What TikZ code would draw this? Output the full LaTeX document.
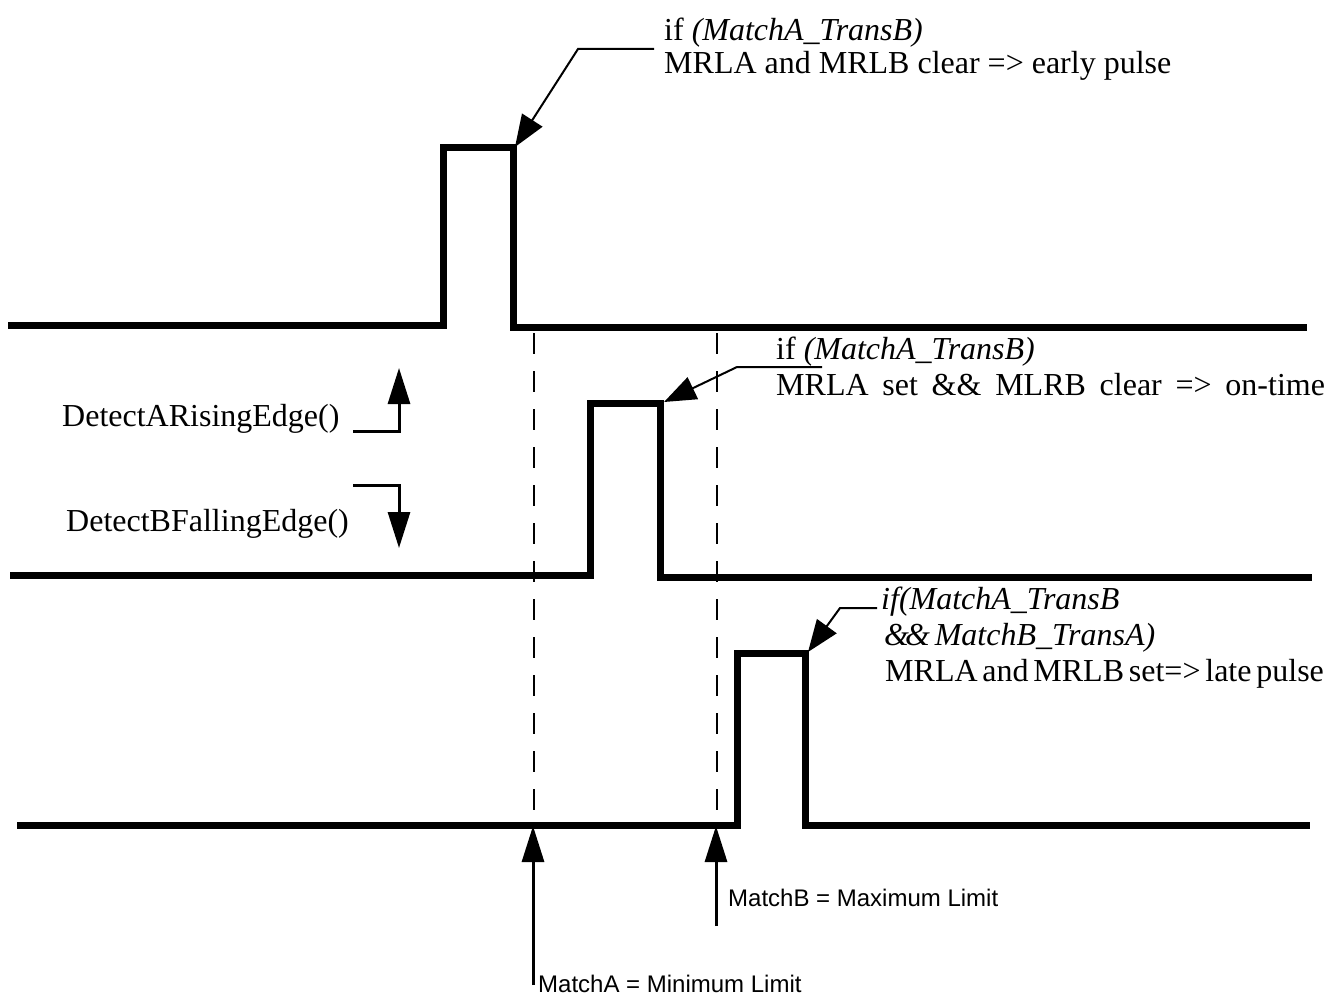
\documentclass[tikz,border=0pt]{standalone}
\usepackage{fontspec}
\setmainfont{Liberation Serif}
\newfontfamily\labelsans{Liberation Sans}
\usetikzlibrary{arrows.meta}
\newcommand\wsp{\hspace{0.43em}}
\newcommand\nsp{\hspace{0.15em}}
\begin{document}
\begin{tikzpicture}[x=1pt,y=-1pt,
  wave/.style={line width=7pt, line join=miter},
  guide/.style={line width=1.2pt, dash pattern=on 21pt off 17pt},
  leader/.style={line width=2pt, -{Triangle[length=32pt,width=24pt]}},
  bigarrow/.style={line width=3pt, -{Triangle[length=36pt,width=22pt]}},
  note/.style={font=\fontsize{32}{36}\selectfont, inner sep=0pt, anchor=base west},
  limit/.style={font=\labelsans\fontsize{24}{28}\selectfont, inner sep=0pt, anchor=base west}]
\useasboundingbox (0,0) rectangle (1335,995);
\fill[white] (0,0) rectangle (1335,995);

% waveform coordinates
\coordinate (a0) at (8,325);   \coordinate (a1) at (443,325);
\coordinate (a2) at (443,148); \coordinate (a3) at (513,148);
\coordinate (a4) at (513,327); \coordinate (a5) at (1307,327);
\coordinate (b0) at (10,575);  \coordinate (b1) at (590,575);
\coordinate (b2) at (590,403); \coordinate (b3) at (660,403);
\coordinate (b4) at (660,577); \coordinate (b5) at (1312,577);
\coordinate (c0) at (17,825);  \coordinate (c1) at (737,825);
\coordinate (c2) at (737,653); \coordinate (c3) at (805,653);
\coordinate (c4) at (805,825); \coordinate (c5) at (1310,825);

\draw[wave] (a0) -- (a1) -- (a2) -- (a3) -- (a4) -- (a5);
\draw[wave] (b0) -- (b1) -- (b2) -- (b3) -- (b4) -- (b5);
\draw[wave] (c0) -- (c1) -- (c2) -- (c3) -- (c4) -- (c5);

% guides
\coordinate (gA1) at (534,333); \coordinate (gA2) at (534,822);
\coordinate (gB1) at (717,333); \coordinate (gB2) at (717,822);
\draw[guide] (gA1) -- (gA2);
\draw[guide] (gB1) -- (gB2);

% top annotation
\node[note] (t1) at (664,41) {if \textit{(MatchA\_TransB)}};
\node[note] (t2) at (664,74) {MRLA and MRLB clear => early pulse};
\coordinate (tl1) at (654,49); \coordinate (tl2) at (578,49);
\coordinate (tip1) at (515,147);
\draw[leader] (tl1) -- (tl2) -- (tip1);

% middle annotation
\node[note] (m1) at (776,359) {if \textit{(MatchA\_TransB)}};
\node[note] (m2) at (776,395) {MRLA\wsp set\wsp \&\&\wsp MLRB\wsp clear\wsp =>\wsp on-time};
\coordinate (ml1) at (822,367); \coordinate (ml2) at (737,367);
\coordinate (tip2) at (664,402);
\draw[leader] (ml1) -- (ml2) -- (tip2);

% bottom annotation
\node[note] (l1) at (881,609) {\textit{if(MatchA\_TransB}};
\node[note] (l2) at (884,645) {\textit{\&\kern-4pt\&\nsp MatchB\_TransA)}};
\node[note] (l3) at (885,681) {MRLA\nsp and\nsp MRLB\nsp set=>\nsp late\nsp pulse};
\coordinate (ll1) at (877,608); \coordinate (ll2) at (840,608);
\coordinate (tip3) at (808,652);
\draw[leader] (ll1) -- (ll2) -- (tip3);

% edge detectors
\node[note] (da) at (62,426) {DetectARisingEdge()};
\node[note] (db) at (66,531) {DetectBFallingEdge()};
\coordinate (da1) at (353,431); \coordinate (da2) at (399,431); \coordinate (da3) at (399,368);
\coordinate (db1) at (353,485); \coordinate (db2) at (399,485); \coordinate (db3) at (399,548);
\draw[bigarrow] (da1) -- (da2) -- (da3);
\draw[bigarrow] (db1) -- (db2) -- (db3);

% limits
\coordinate (mA0) at (533,985); \coordinate (mA1) at (533,826);
\coordinate (mB0) at (716,926); \coordinate (mB1) at (716,826);
\draw[bigarrow] (mA0) -- (mA1);
\draw[bigarrow] (mB0) -- (mB1);
\node[limit] (la) at (538,992) {MatchA = Minimum Limit};
\node[limit] (lb) at (728,906) {MatchB = Maximum Limit};
\end{tikzpicture}
\end{document}
